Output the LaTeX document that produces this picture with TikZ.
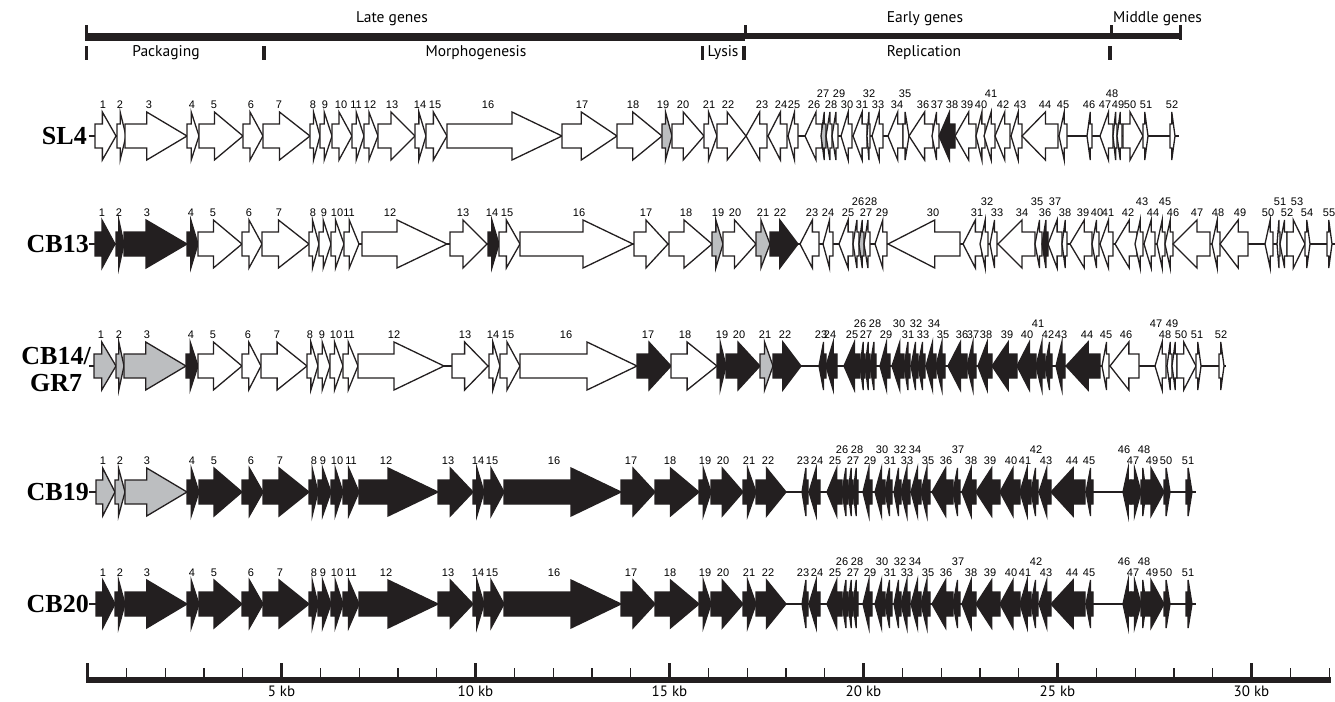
\documentclass[tikz,border=0pt]{standalone}
\usepackage{fontspec}
\setmainfont{Liberation Sans}
\newfontfamily\phasefont{PT Sans}
\newfontfamily\strainfont{Liberation Serif}
\definecolor{gb}{HTML}{231F20}
\definecolor{gg}{HTML}{BCBEC0}
\colorlet{gw}{white}
\tikzset{
  genebox/.style={draw=gb,line width=1.3pt},
  genenum/.style={font=\fontsize{11}{12}\selectfont,inner sep=0pt},
  strain/.style={font=\strainfont\bfseries\fontsize{26}{27}\selectfont,anchor=east,align=center,inner sep=0pt},
  phase/.style={font=\phasefont\fontsize{15.5}{17}\selectfont,inner sep=0pt},
  kblabel/.style={font=\phasefont\fontsize{15}{16}\selectfont,inner sep=0pt},
  backbone/.style={draw=gb,line width=1.5pt},
  minortick/.style={draw=gb,line width=1.2pt}
}
% gene arrow: start, tip, fill, number, x of number, number row (0 low, 1 high)
\newcommand{\gene}[6]{%
  \pgfmathsetmacro{\gdir}{(#2>#1)?1:-1}%
  \pgfmathsetmacro{\glen}{abs(#2-#1)}%
  \pgfmathsetmacro{\ghead}{min(0.65*\glen,50)}%
  \pgfmathsetmacro{\gbase}{#2-\gdir*\ghead}%
  \filldraw[genebox,fill=#3] (#1,\rowy-12) -- (\gbase,\rowy-12) -- (\gbase,\rowy-24)
    -- (#2,\rowy) -- (\gbase,\rowy+24) -- (\gbase,\rowy+12) -- (#1,\rowy+12) -- cycle;
  \node[genenum] (\rowname-#4) at (#5,\rowy-31-11*#6) {#4};%
}
% CB19 and CB20 share one map; #1 is the fill of genes 1-3
\newcommand{\cbmap}[1]{%
  \gene{96}{115}{#1}{1}{103}{0}
  \gene{115}{125}{#1}{2}{120}{0}
  \gene{125}{187}{#1}{3}{147}{0}
  \gene{187}{199}{gb}{4}{192}{0}
  \gene{199}{242}{gb}{5}{214}{0}
  \gene{242}{263}{gb}{6}{251}{0}
  \gene{263}{309}{gb}{7}{280}{0}
  \gene{309}{318}{gb}{8}{314}{0}
  \gene{318}{331}{gb}{9}{323}{0}
  \gene{331}{343}{gb}{10}{337}{0}
  \gene{343}{359}{gb}{11}{351}{0}
  \gene{359}{438}{gb}{12}{386}{0}
  \gene{438}{473}{gb}{13}{448}{0}
  \gene{473}{484}{gb}{14}{478}{0}
  \gene{484}{504}{gb}{15}{492}{0}
  \gene{504}{621}{gb}{16}{554}{0}
  \gene{621}{655}{gb}{17}{631}{0}
  \gene{655}{699}{gb}{18}{670}{0}
  \gene{699}{711}{gb}{19}{705}{0}
  \gene{711}{743}{gb}{20}{723}{0}
  \gene{743}{756}{gb}{21}{749}{0}
  \gene{756}{786}{gb}{22}{768}{0}
  \gene{808}{802}{gb}{23}{803}{0}
  \gene{820}{809}{gb}{24}{817}{0}
  \gene{842}{827}{gb}{25}{835}{0}
  \gene{848}{842}{gb}{26}{842}{1}
  \gene{853}{848}{gb}{27}{853}{0}
  \gene{858}{853}{gb}{28}{857}{1}
  \gene{872}{863}{gb}{29}{870}{0}
  \gene{885}{875}{gb}{30}{882}{1}
  \gene{892}{885}{gb}{31}{890}{0}
  \gene{901}{894}{gb}{32}{900}{1}
  \gene{910}{901}{gb}{33}{907}{0}
  \gene{921}{911}{gb}{34}{915}{1}
  \gene{930}{921}{gb}{35}{928}{0}
  \gene{953}{932}{gb}{36}{946}{0}
  \gene{960}{953}{gb}{37}{958}{1}
  \gene{976}{962}{gb}{38}{971}{0}
  \gene{1000}{976}{gb}{39}{990}{0}
  \gene{1020}{1000}{gb}{40}{1011}{0}
  \gene{1031}{1020}{gb}{41}{1025}{0}
  \gene{1038}{1031}{gb}{42}{1036}{1}
  \gene{1051}{1039}{gb}{43}{1046}{0}
  \gene{1085}{1051}{gb}{44}{1072}{0}
  \gene{1093}{1086}{gb}{45}{1089}{0}
  \gene{1131}{1123}{gb}{46}{1124}{1}
  \gene{1131}{1141}{gb}{47}{1133}{0}
  \gene{1141}{1146}{gb}{48}{1144}{1}
  \gene{1144}{1164}{gb}{49}{1152}{0}
  \gene{1164}{1170}{gb}{50}{1166}{0}
  \gene{1186}{1192}{gb}{51}{1188}{0}
}

\begin{document}
\begin{tikzpicture}[x=1pt,y=-1pt]
\useasboundingbox (0,0) rectangle (1335,701);

% gene classes and functions
\fill[gb] (84.5,33.3) rectangle (745,40.7);
\fill[gb] (745,33.3) rectangle (1181.5,39.3);
\fill[gb] (84.5,25) rectangle (88,40.7);
\fill[gb] (743.5,25) rectangle (746.5,34);
\fill[gb] (1110,25) rectangle (1113,34);
\fill[gb] (1178.5,25) rectangle (1182,40);
\foreach \t in {86.4,264,702.4,744,1110}
  \fill[gb] (\t-1.7,46) rectangle (\t+1.7,60);
\node[phase] (late) at (392,19) {Late genes};
\node[phase] (early) at (925,19) {Early genes};
\node[phase,anchor=west] (middle) at (1113,19) {Middle genes};
\node[phase] (pack) at (166,53) {Packaging};
\node[phase] (morph) at (476,53) {Morphogenesis};
\node[phase] (lysis) at (723,53) {Lysis};
\node[phase] (repl) at (924,53) {Replication};

% SL4
\def\rowy{136}\def\rowname{sl4}
\node[strain] (sl4) at (87,\rowy) {SL4};
\coordinate (sl4-l) at (89,\rowy);
\coordinate (sl4-r) at (1179,\rowy);
\draw[backbone] (sl4-l) -- (sl4-r);
\gene{95}{116}{gw}{1}{103}{0}
\gene{117}{126}{gw}{2}{120}{0}
\gene{125}{187}{gw}{3}{149}{0}
\gene{187}{199}{gw}{4}{192}{0}
\gene{199}{243}{gw}{5}{214}{0}
\gene{243}{263}{gw}{6}{251}{0}
\gene{263}{310}{gw}{7}{279}{0}
\gene{310}{320}{gw}{8}{313}{0}
\gene{320}{332}{gw}{9}{325}{0}
\gene{332}{352}{gw}{10}{341}{0}
\gene{352}{364}{gw}{11}{356}{0}
\gene{364}{378}{gw}{12}{370}{0}
\gene{378}{415}{gw}{13}{392}{0}
\gene{415}{426}{gw}{14}{420}{0}
\gene{426}{447}{gw}{15}{435}{0}
\gene{447}{562}{gw}{16}{488}{0}
\gene{562}{617}{gw}{17}{582}{0}
\gene{617}{662}{gw}{18}{633}{0}
\gene{662}{672}{gg}{19}{663}{0}
\gene{672}{704}{gw}{20}{683}{0}
\gene{704}{717}{gw}{21}{709}{0}
\gene{717}{746}{gw}{22}{728}{0}
\gene{767}{746}{gw}{23}{762}{0}
\gene{787}{768}{gw}{24}{781}{0}
\gene{798}{788}{gw}{25}{794}{0}
\gene{822}{805}{gw}{26}{814}{0}
\gene{826}{821}{gg}{27}{823}{1}
\gene{832}{826}{gw}{28}{831}{0}
\gene{838}{832}{gw}{29}{839}{1}
\gene{852}{841}{gw}{30}{847}{0}
\gene{867}{853}{gw}{31}{862}{0}
\gene{870}{867}{gw}{32}{869}{1}
\gene{883}{872}{gw}{33}{878}{0}
\gene{903}{888}{gw}{34}{897}{0}
\gene{903}{909}{gw}{35}{905}{1}
\gene{933}{909}{gw}{36}{923}{0}
\gene{939}{932}{gw}{37}{937}{0}
\gene{955}{939}{gb}{38}{952}{0}
\gene{976}{955}{gw}{39}{967}{0}
\gene{985}{976}{gw}{40}{981}{0}
\gene{995}{984}{gw}{41}{991}{1}
\gene{1010}{995}{gw}{42}{1003}{0}
\gene{1022}{1011}{gw}{43}{1020}{0}
\gene{1058}{1022}{gw}{44}{1045}{0}
\gene{1067}{1059}{gw}{45}{1063}{0}
\gene{1092}{1087}{gw}{46}{1089}{0}
\gene{1113}{1100}{gw}{47}{1105}{0}
\gene{1117}{1113}{gw}{48}{1112}{1}
\gene{1122}{1117}{gw}{49}{1118}{0}
\gene{1123}{1143}{gw}{50}{1130}{0}
\gene{1143}{1148}{gw}{51}{1146}{0}
\gene{1170}{1175}{gw}{52}{1172}{0}

% CB13
\def\rowy{244}\def\rowname{cb13}
\node[strain] (cb13) at (89,\rowy) {CB13};
\coordinate (cb13-l) at (89,\rowy);
\coordinate (cb13-r) at (1335,\rowy);
\draw[backbone] (cb13-l) -- (cb13-r);
\gene{95}{115}{gb}{1}{102}{0}
\gene{116}{124}{gb}{2}{119}{0}
\gene{124}{187}{gb}{3}{147}{0}
\gene{187}{198}{gb}{4}{191}{0}
\gene{198}{242}{gw}{5}{213}{0}
\gene{242}{262}{gw}{6}{249}{0}
\gene{262}{309}{gw}{7}{279}{0}
\gene{309}{319}{gw}{8}{313}{0}
\gene{319}{331}{gw}{9}{324}{0}
\gene{331}{344}{gw}{10}{337}{0}
\gene{344}{359}{gw}{11}{349}{0}
\gene{362}{447}{gw}{12}{390}{0}
\gene{450}{487}{gw}{13}{463}{0}
\gene{488}{499}{gb}{14}{492}{0}
\gene{499}{520}{gw}{15}{507}{0}
\gene{520}{633}{gw}{16}{579}{0}
\gene{634}{668}{gw}{17}{646}{0}
\gene{669}{712}{gw}{18}{686}{0}
\gene{712}{723}{gg}{19}{718}{0}
\gene{723}{756}{gw}{20}{735}{0}
\gene{756}{770}{gg}{21}{763}{0}
\gene{770}{798}{gb}{22}{780}{0}
\gene{819}{800}{gw}{23}{812}{0}
\gene{833}{823}{gw}{24}{828}{0}
\gene{853}{839}{gw}{25}{848}{0}
\gene{859}{853}{gw}{26}{858}{1}
\gene{864}{859}{gg}{27}{866}{0}
\gene{870}{864}{gw}{28}{871}{1}
\gene{887}{875}{gw}{29}{882}{0}
\gene{960}{888}{gw}{30}{933}{0}
\gene{982}{963}{gw}{31}{977}{0}
\gene{988}{980}{gw}{32}{987}{1}
\gene{997}{990}{gw}{33}{997}{0}
\gene{1035}{998}{gw}{34}{1022}{0}
\gene{1042}{1035}{gw}{35}{1037}{1}
\gene{1048}{1042}{gb}{36}{1045}{0}
\gene{1062}{1048}{gw}{37}{1055}{1}
\gene{1067}{1062}{gw}{38}{1065}{0}
\gene{1092}{1070}{gw}{39}{1083}{0}
\gene{1099}{1092}{gw}{40}{1097}{0}
\gene{1113}{1100}{gw}{41}{1108}{0}
\gene{1137}{1115}{gw}{42}{1128}{0}
\gene{1143}{1135}{gw}{43}{1142}{1}
\gene{1155}{1144}{gw}{44}{1153}{0}
\gene{1165}{1157}{gw}{45}{1165}{1}
\gene{1173}{1165}{gw}{46}{1173}{0}
\gene{1210}{1173}{gw}{47}{1197}{0}
\gene{1220}{1212}{gw}{48}{1218}{0}
\gene{1248}{1220}{gw}{49}{1240}{0}
\gene{1273}{1265}{gw}{50}{1268}{0}
\gene{1280}{1277}{gw}{51}{1280}{1}
\gene{1287}{1280}{gw}{52}{1287}{0}
\gene{1287}{1305}{gw}{53}{1297}{1}
\gene{1305}{1310}{gw}{54}{1307}{0}
\gene{1327}{1332}{gw}{55}{1329}{0}

% CB14/GR7
\def\rowy{366}\def\rowname{cb14}
\node[strain] (cb14) at (91,\rowy+4) {CB14/\\GR7};
\coordinate (cb14-l) at (89,\rowy);
\coordinate (cb14-r) at (1226,\rowy);
\draw[backbone] (cb14-l) -- (cb14-r);
\gene{94}{116}{gg}{1}{101}{0}
\gene{116}{124}{gg}{2}{119}{0}
\gene{124}{186}{gg}{3}{147}{0}
\gene{186}{198}{gb}{4}{191}{0}
\gene{198}{242}{gw}{5}{213}{0}
\gene{242}{261}{gw}{6}{248}{0}
\gene{261}{307}{gw}{7}{277}{0}
\gene{307}{318}{gw}{8}{310}{0}
\gene{318}{330}{gw}{9}{322}{0}
\gene{330}{343}{gw}{10}{336}{0}
\gene{343}{358}{gw}{11}{349}{0}
\gene{358}{444}{gw}{12}{394}{0}
\gene{452}{488}{gw}{13}{465}{0}
\gene{489}{500}{gw}{14}{493}{0}
\gene{500}{520}{gw}{15}{508}{0}
\gene{520}{637}{gw}{16}{566}{0}
\gene{637}{671}{gb}{17}{648}{0}
\gene{671}{717}{gw}{18}{685}{0}
\gene{717}{726}{gb}{19}{722}{0}
\gene{726}{760}{gb}{20}{739}{0}
\gene{760}{773}{gg}{21}{765}{0}
\gene{773}{801}{gb}{22}{785}{0}
\gene{826}{819}{gb}{23}{821}{0}
\gene{837}{826}{gb}{24}{830}{0}
\gene{860}{844}{gb}{25}{852}{0}
\gene{865}{860}{gb}{26}{860}{1}
\gene{870}{865}{gb}{27}{866}{0}
\gene{876}{870}{gb}{28}{875}{1}
\gene{890}{880}{gb}{29}{886}{0}
\gene{904}{892}{gb}{30}{899}{1}
\gene{910}{904}{gb}{31}{908}{0}
\gene{918}{911}{gb}{32}{916}{1}
\gene{925}{918}{gb}{33}{923}{0}
\gene{936}{926}{gb}{34}{934}{1}
\gene{945}{936}{gb}{35}{943}{0}
\gene{967}{948}{gb}{36}{962}{0}
\gene{976}{967}{gb}{37}{973}{0}
\gene{992}{978}{gb}{38}{986}{0}
\gene{1017}{992}{gb}{39}{1007}{0}
\gene{1036}{1017}{gb}{40}{1027}{0}
\gene{1045}{1036}{gb}{41}{1038}{1}
\gene{1052}{1045}{gb}{42}{1048}{0}
\gene{1065}{1056}{gb}{43}{1061}{0}
\gene{1100}{1066}{gb}{44}{1087}{0}
\gene{1109}{1102}{gw}{45}{1106}{0}
\gene{1139}{1110}{gw}{46}{1126}{0}
\gene{1166}{1155}{gw}{47}{1156}{1}
\gene{1172}{1167}{gw}{48}{1165}{0}
\gene{1177}{1172}{gw}{49}{1172}{1}
\gene{1177}{1196}{gw}{50}{1181}{0}
\gene{1196}{1201}{gw}{51}{1197}{0}
\gene{1219}{1224}{gw}{52}{1221}{0}

% CB19
\def\rowy{492}\def\rowname{cb19}
\node[strain] (cb19) at (89,\rowy) {CB19};
\coordinate (cb19-l) at (89,\rowy);
\coordinate (cb19-r) at (1196,\rowy);
\draw[backbone] (cb19-l) -- (cb19-r);
\cbmap{gg}

% CB20
\def\rowy{604}\def\rowname{cb20}
\node[strain] (cb20) at (89,\rowy) {CB20};
\coordinate (cb20-l) at (89,\rowy);
\coordinate (cb20-r) at (1196,\rowy);
\draw[backbone] (cb20-l) -- (cb20-r);
\cbmap{gb}

% scale bar, 1 kb = 38.8
\fill[gb] (86,677) rectangle (1331,683);
\foreach \k in {1,...,32}
  \draw[minortick] ({87.5+38.8*\k},668) -- ({87.5+38.8*\k},680);
\foreach \k in {0,5,...,30}
  \fill[gb] ({87.5+38.8*\k-1.7},663) rectangle ++(3.4,17);
\foreach \k in {5,10,...,30}
  \node[kblabel] (kb\k) at ({87.5+38.8*\k},691) {\k{} kb};
\end{tikzpicture}
\end{document}
